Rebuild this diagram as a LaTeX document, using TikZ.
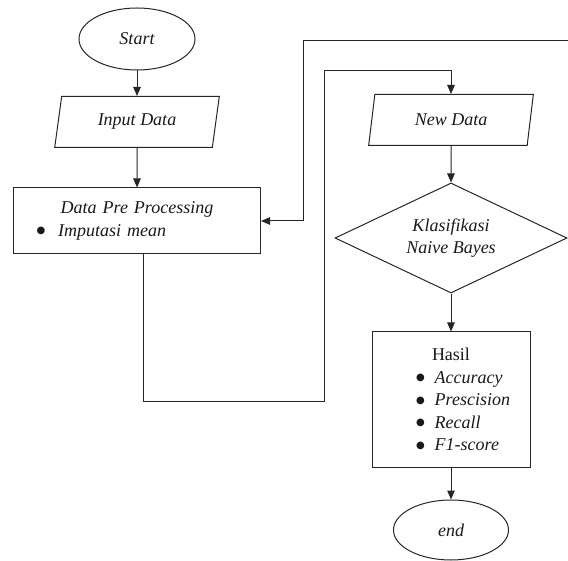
\documentclass[tikz,border=0pt]{standalone}
\usepackage{fontspec}
\setmainfont{Liberation Serif}
\newfontfamily\symfont{DejaVu Sans}
\usetikzlibrary{shapes.geometric, arrows.meta}

\newcommand{\dotmark}{\raisebox{2.5pt}{\symfont\upshape\fontsize{10}{10}\selectfont ●}}
\newcommand{\bul}[1]{\hspace*{42pt}\dotmark\hspace{10pt}#1}

\begin{document}
\begin{tikzpicture}[x=1pt, y=-1pt, every node/.style={draw=black!85, line width=1pt,
        inner sep=2pt, text=black!90, font=\fontsize{18}{22.5}\selectfont\itshape},
        term/.style={ellipse, minimum width=116pt, minimum height=62pt},
        io/.style={trapezium, trapezium left angle=79, trapezium right angle=101,
            trapezium stretches=true, minimum width=166pt, minimum height=51pt},
        proc/.style={rectangle},
        dec/.style={diamond, aspect=2.1, align=center, inner sep=0pt, minimum width=232pt,
            minimum height=110pt},
        arr/.style={draw=black!85, line width=1pt, -{Triangle[length=9pt, width=7.5pt]}}]
        \useasboundingbox (0,0) rectangle (568,561);

        \node[term] (start) at (137,39) {Start};
        \node[io] (inp) at (137,122) {Input Data};
        \node[proc, text width=243pt, minimum height=66pt] (dpp) at (137,221)
            {\centering Data Pre Processing\par
             \raggedright\hspace*{21pt}\dotmark\hspace{13pt}Imputasi mean};
        \node[io] (nd) at (451,120) {New Data};
        \node[dec] (nb) at (451,238) {Klasifikasi\\Naive Bayes};
        \node[proc, text width=154pt, minimum height=135pt] (hasil) at (451,399.5)
            {\raggedright\hspace*{58pt}{\upshape Hasil}\\
             \bul{Accuracy}\\ \bul{Prescision}\\ \bul{Recall}\\ \bul{F1-score}};
        \node[term, minimum width=115pt, minimum height=60pt] (end) at (451,530) {end};

        \coordinate (r1) at (568,41);
        \coordinate (r2) at (303,221);
        \coordinate (c1) at (324,402);
        \coordinate (c2) at (451,71);

        \draw[arr] (start) -- (inp);
        \draw[arr] (inp) -- (dpp);
        \draw[arr] (r1) -| (r2) -- (dpp.east);
        \draw[arr] ([xshift=6pt]dpp.south) |- (c1) |- (c2) -- (nd);
        \draw[arr] (nd) -- (nb);
        \draw[arr] (nb) -- (hasil);
        \draw[arr] (hasil) -- (end);
\end{tikzpicture}
\end{document}
